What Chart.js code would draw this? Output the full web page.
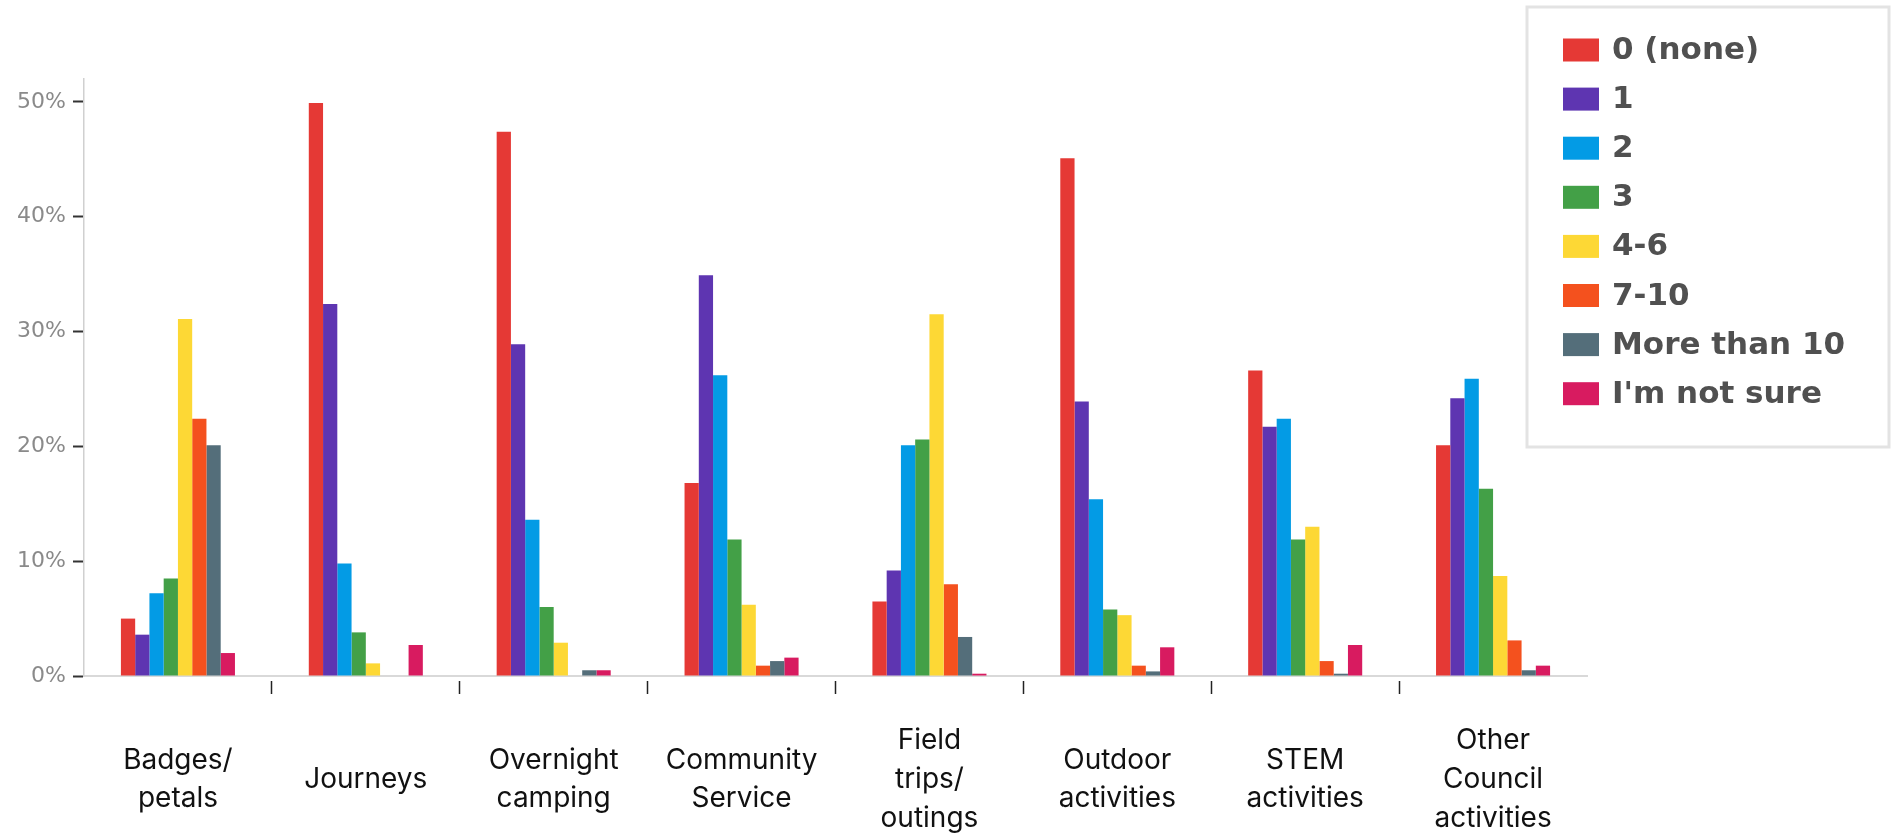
<!DOCTYPE html>
<html>
<head>
<meta charset="utf-8">
<title>Activities by count</title>
<script src="https://cdn.jsdelivr.net/npm/chart.js@4.4.1/dist/chart.umd.min.js"></script>
<style>
  html, body { margin: 0; padding: 0; background: #ffffff; }
  #wrap { width: 1894px; height: 838px; }
</style>
</head>
<body>
<div id="wrap"><canvas id="chart" width="1894" height="838"></canvas></div>
<script>
// Activity categories (multi-line axis labels)
const categories = [
  ['Badges/', 'petals'],
  ['Journeys'],
  ['Overnight', 'camping'],
  ['Community', 'Service'],
  ['Field', 'trips/', 'outings'],
  ['Outdoor', 'activities'],
  ['STEM', 'activities'],
  ['Other', 'Council', 'activities']
];

// Response series, in percent
const seriesNames = ['0 (none)', '1', '2', '3', '4-6', '7-10', 'More than 10', "I'm not sure"];
const none        = [5.0, 49.9, 47.4, 16.8, 6.5, 45.1, 26.6, 20.1];
const one         = [3.6, 32.4, 28.9, 34.9, 9.2, 23.9, 21.7, 24.2];
const two         = [7.2, 9.8, 13.6, 26.2, 20.1, 15.4, 22.4, 25.9];
const three       = [8.5, 3.8, 6.0, 11.9, 20.6, 5.8, 11.9, 16.3];
const fourToSix   = [31.1, 1.1, 2.9, 6.2, 31.5, 5.3, 13.0, 8.7];
const sevenToTen  = [22.4, 0, 0, 0.9, 8.0, 0.9, 1.3, 3.1];
const moreThanTen = [20.1, 0, 0.5, 1.3, 3.4, 0.4, 0.2, 0.5];
const notSure     = [2.0, 2.7, 0.5, 1.6, 0.2, 2.5, 2.7, 0.9];

// Y axis ticks
const yTickValues = [0, 10, 20, 30, 40, 50];

const seriesValues = [none, one, two, three, fourToSix, sevenToTen, moreThanTen, notSure];
const seriesColors = ['#E53935', '#5E35B1', '#039BE5', '#43A047', '#FDD835', '#F4511E', '#546E7A', '#D81B60'];

// Boxed legend in the upper right corner
const boxedLegend = {
  id: 'boxedLegend',
  afterDraw(chart) {
    const ctx = chart.ctx;
    const x0 = 1527, y0 = 7, w = 362, h = 440;
    ctx.save();
    ctx.fillStyle = '#ffffff';
    ctx.fillRect(x0, y0, w, h);
    ctx.strokeStyle = '#e3e3e3';
    ctx.lineWidth = 3;
    ctx.strokeRect(x0, y0, w, h);
    ctx.font = 'bold 31px "DejaVu Sans"';
    ctx.textBaseline = 'middle';
    ctx.textAlign = 'left';
    chart.data.datasets.forEach((ds, i) => {
      const cy = 50 + i * 49.1;
      ctx.fillStyle = ds.backgroundColor;
      ctx.fillRect(1563, cy - 11.5, 36, 23);
      ctx.fillStyle = '#505050';
      ctx.fillText(ds.label, 1612, cy + 1);
    });
    ctx.restore();
  }
};

new Chart(document.getElementById('chart'), {
  type: 'bar',
  data: {
    labels: categories,
    datasets: seriesNames.map((name, i) => ({
      label: name,
      data: seriesValues[i],
      backgroundColor: seriesColors[i],
      borderWidth: 0,
      categoryPercentage: 0.607,
      barPercentage: 1.0
    }))
  },
  options: {
    responsive: false,
    devicePixelRatio: 1,
    animation: false,
    layout: { padding: { left: 0, right: 307, top: 79, bottom: 0 } },
    plugins: {
      legend: { display: false },
      tooltip: { enabled: false }
    },
    scales: {
      x: {
        afterFit(scale) {
          scale.height = 162;
          scale.paddingLeft = 0;
          scale.paddingRight = 0;
        },
        grid: {
          display: true,
          drawOnChartArea: false,
          drawTicks: true,
          tickLength: 18,
          tickWidth: 1.5,
          tickBorderDash: [14, 4],
          tickBorderDashOffset: 14,
          tickColor: (c) => (c.index === undefined || c.index === 0) ? 'rgba(0,0,0,0)' : '#222222'
        },
        border: { display: true, color: '#d9d9d9', width: 2 },
        ticks: {
          color: '#111111',
          font: { family: 'Inter', size: 28, lineHeight: 1.38 },
          padding: 47,
          maxRotation: 0,
          autoSkip: false,
          crossAlign: 'center'
        }
      },
      y: {
        min: 0,
        max: 52,
        afterFit(scale) { scale.width = 84; },
        afterBuildTicks(scale) { scale.ticks = yTickValues.map(v => ({ value: v })); },
        grid: {
          drawOnChartArea: false,
          drawTicks: true,
          tickLength: 11,
          tickWidth: 2,
          tickColor: '#333333'
        },
        border: { display: true, color: '#d0d0d0', width: 1.5 },
        ticks: {
          color: '#8a8a8a',
          font: { family: 'DejaVu Sans', size: 22 },
          padding: 7,
          callback: (v) => v + '%'
        }
      }
    }
  },
  plugins: [boxedLegend]
});
</script>
</body>
</html>
